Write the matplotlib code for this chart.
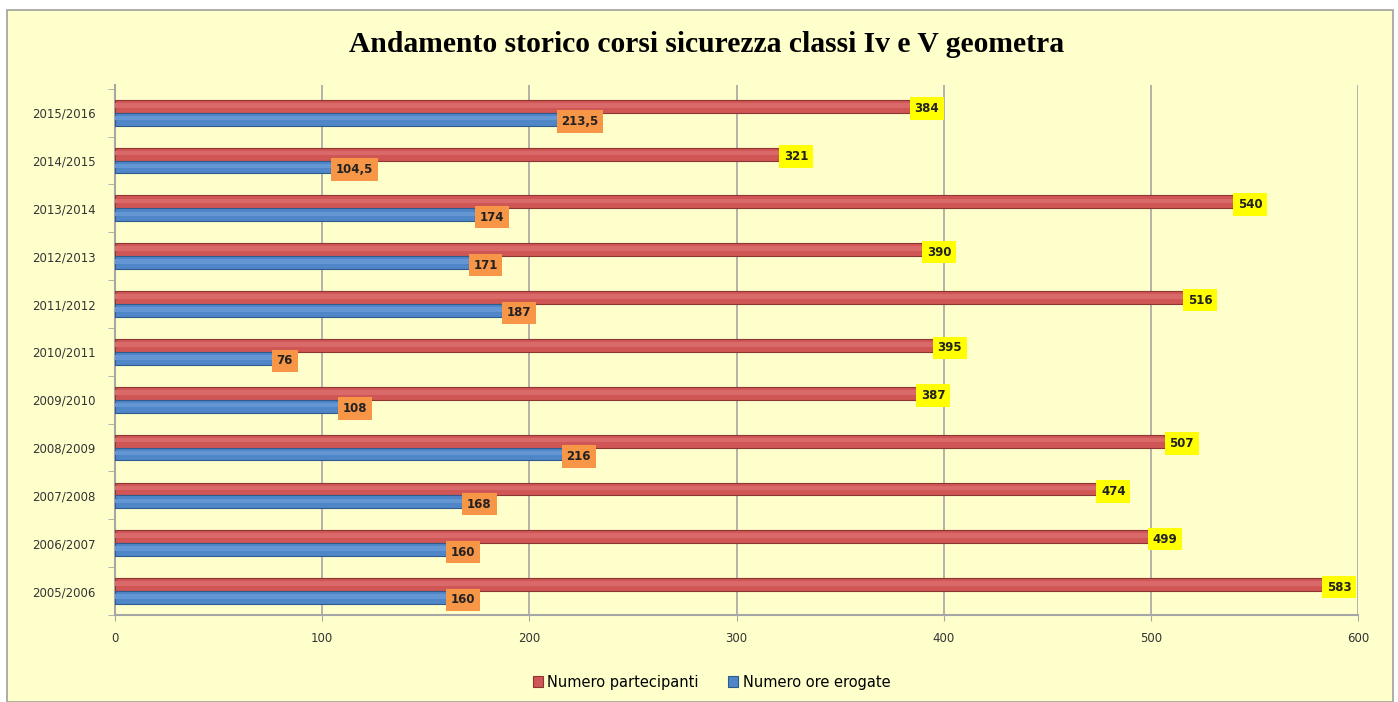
import matplotlib.pyplot as plt
import numpy as np
from matplotlib.patches import Rectangle

years = ['2005/2006', '2006/2007', '2007/2008', '2008/2009', '2009/2010', '2010/2011',
         '2011/2012', '2012/2013', '2013/2014', '2014/2015', '2015/2016']
partecipanti = [583, 499, 474, 507, 387, 395, 516, 390, 540, 321, 384]
ore = [160, 160, 168, 216, 108, 76, 187, 171, 174, 104.5, 213.5]

bg = '#ffffcc'
red = '#d05656'
blue = '#4f86c8'

fig = plt.figure(figsize=(13.98, 7.02), dpi=100, facecolor='white')
fig.patches.append(Rectangle((7/1398, 0), 1386/1398, 692/702, transform=fig.transFigure,
                             facecolor=bg, edgecolor='#a0a0a0', linewidth=1.2, zorder=-10))

ax = fig.add_axes([115/1398, 1 - 615/702, 1243/1398, 530/702])
ax.patch.set_alpha(0)

y = np.arange(len(years))
h = 0.27
ax.barh(y + h/2, partecipanti, height=h, color=red, edgecolor='#8c3533', linewidth=0.8,
        label='Numero partecipanti', zorder=3)
ax.barh(y - h/2, ore, height=h, color=blue, edgecolor='#2f5a8c', linewidth=0.8,
        label='Numero ore erogate', zorder=3)
# soft highlight for a rounded look
ax.barh(y + h/2 + h*0.08, partecipanti, height=h*0.35, color='#da6a6a', linewidth=0, zorder=4)
ax.barh(y - h/2 + h*0.08, ore, height=h*0.35, color='#6396d2', linewidth=0, zorder=4)

for i in range(len(years)):
    ax.text(partecipanti[i] + 2, y[i] + h/2 - 0.05, str(partecipanti[i]), va='center', ha='left',
            fontsize=8.5, fontweight='bold', color='#222222', zorder=5,
            bbox=dict(boxstyle='square,pad=0.4', facecolor='#ffff00', edgecolor='none'))
    v = ore[i]
    s = str(int(v)) if v == int(v) else str(v).replace('.', ',')
    ax.text(v + 2, y[i] - h/2 - 0.05, s, va='center', ha='left',
            fontsize=8.5, fontweight='bold', color='#222222', zorder=5,
            bbox=dict(boxstyle='square,pad=0.4', facecolor='#f79646', edgecolor='none'))

ax.set_xlim(0, 600)
ax.set_ylim(-0.46, 10.58)
ax.set_xticks(range(0, 601, 100))
ax.set_yticks(y)
ax.set_yticklabels(years)
ax.set_yticks(np.arange(-0.5, 10.6, 1), minor=True)
ax.tick_params(axis='both', labelsize=8.5, colors='#333333', length=4)
ax.tick_params(axis='y', which='major', length=0, pad=14)
ax.tick_params(axis='y', which='minor', length=5, color='#a6a6a6')
ax.tick_params(axis='x', pad=8, color='#a6a6a6')
ax.grid(axis='x', color='#a6a6a6', linewidth=1.2, zorder=1)
for s in ['top', 'right']:
    ax.spines[s].set_visible(False)
ax.spines['left'].set_color('#a6a6a6')
ax.spines['bottom'].set_color('#a6a6a6')
ax.spines['left'].set_linewidth(1.5)
ax.spines['bottom'].set_linewidth(1.5)

fig.text(707/1398, 1 - 45/702, 'Andamento storico corsi sicurezza classi Iv e V geometra',
         ha='center', va='center', fontsize=21.3, fontweight='bold', family='Liberation Serif')

ax.legend(loc='center', bbox_to_anchor=(0.48, (1 - 682/702 - 87/702) / (530/702)), ncol=2,
          frameon=False, fontsize=10.5, handlelength=0.7, handleheight=0.7, columnspacing=2.0,
          handletextpad=0.3)

fig.savefig('out.png', dpi=100, facecolor='white')
